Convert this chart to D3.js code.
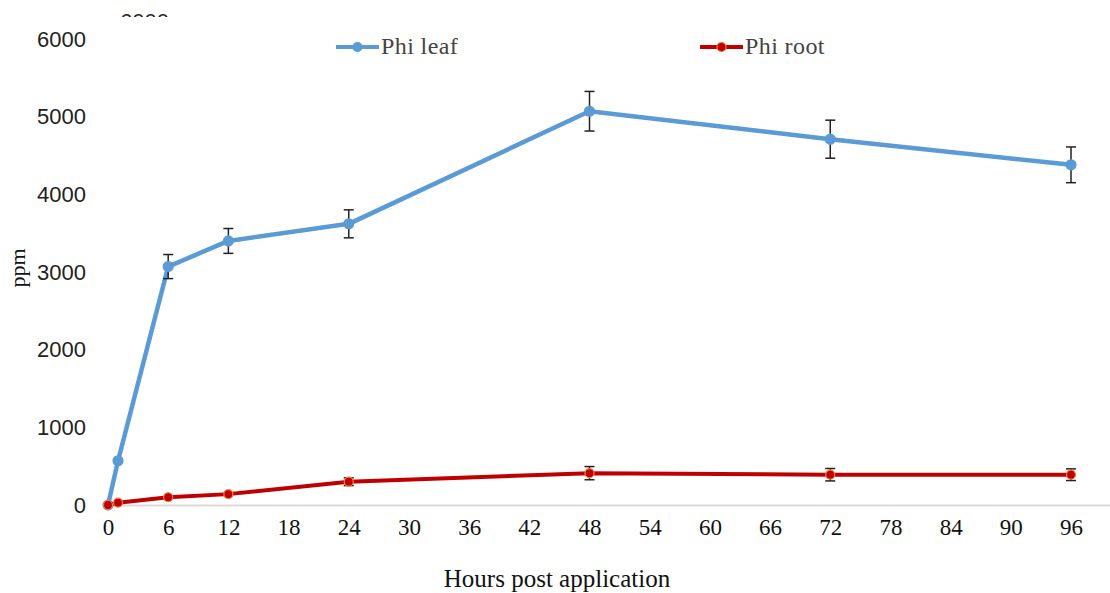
<!DOCTYPE html>
<html>
<head>
<meta charset="utf-8">
<script src="https://cdn.jsdelivr.net/npm/d3@7"></script>
<style>
  body { margin: 0; background: #fff; }
  .y-axis text { font-family: "Liberation Sans", Arial, sans-serif; font-size: 22px; fill: #222; }
  .x-axis text { font-family: "Liberation Serif", "Times New Roman", serif; font-size: 23px; fill: #111; }
  .axis-title { font-family: "Liberation Serif", "Times New Roman", serif; font-size: 25px; fill: #111; }
  .legend-label { font-family: "Liberation Serif", "Times New Roman", serif; font-size: 24px; fill: #444; letter-spacing: 0.4px; }
</style>
</head>
<body>
<svg id="chart"></svg>
<script>
var width = 1110, height = 593;

// data
var hours = [0, 1, 6, 12, 24, 48, 72, 96];
var leaf = [0, 570, 3070, 3400, 3620, 5070, 4710, 4380];
var leafErr = [0, 0, 155, 160, 180, 255, 245, 230];
var root = [0, 30, 100, 140, 300, 410, 390, 390];
var rootErr = [0, 0, 0, 0, 50, 85, 80, 75];
var xTicks = [0, 6, 12, 18, 24, 30, 36, 42, 48, 54, 60, 66, 72, 78, 84, 90, 96];
var yTicks = [0, 1000, 2000, 3000, 4000, 5000, 6000];
var seriesNames = ["Phi leaf", "Phi root"];
var strayLabel = "6000"; // clipped label left over at the top of the picture

var leafColor = "#5b9bd5";
var rootColor = "#c00000";

var svg = d3.select("#chart")
    .attr("width", width)
    .attr("height", height);

var x = d3.scaleLinear()
    .domain([0, 96])
    .range([108, 1071]);

var y = d3.scaleLinear()
    .domain([0, 6000])
    .range([505, 39]);

// stray clipped label at the top
svg.append("clipPath")
    .attr("id", "top-clip")
  .append("rect")
    .attr("x", 0).attr("y", 0)
    .attr("width", 300).attr("height", 17);

svg.append("text")
    .attr("clip-path", "url(#top-clip)")
    .attr("x", 120)
    .attr("y", 29)
    .style("font-family", "Liberation Sans, Arial, sans-serif")
    .style("font-size", "22px")
    .attr("fill", "#222")
    .text(strayLabel);

// x axis
var xAxis = svg.append("g")
    .attr("class", "x-axis")
    .attr("transform", "translate(0," + y(0) + ")")
    .call(d3.axisBottom(x)
        .tickValues(xTicks)
        .tickSize(0)
        .tickPadding(14));
xAxis.select(".domain").remove();

svg.append("line")
    .attr("x1", x(0))
    .attr("x2", width)
    .attr("y1", y(0) + 0.5)
    .attr("y2", y(0) + 0.5)
    .attr("stroke", "#d9d9d9")
    .attr("stroke-width", 2);

// y axis
var yAxis = svg.append("g")
    .attr("class", "y-axis")
    .attr("transform", "translate(86,0)")
    .call(d3.axisLeft(y)
        .tickValues(yTicks)
        .tickFormat(d3.format("d"))
        .tickSize(0)
        .tickPadding(0));
yAxis.select(".domain").remove();

// axis titles
svg.append("text")
    .attr("class", "axis-title")
    .attr("x", 557)
    .attr("y", 587)
    .attr("text-anchor", "middle")
    .text("Hours post application");

svg.append("text")
    .attr("class", "axis-title")
    .style("font-size", "22px")
    .attr("transform", "translate(25,268) rotate(-90)")
    .attr("text-anchor", "middle")
    .text("ppm");

function drawSeries(values, errs, color, lineWidth, markerStroke, r) {
    var pts = hours.map(function(h, i) {
        return { h: h, v: values[i], e: errs[i] };
    });

    var line = d3.line()
        .x(function(d) { return x(d.h); })
        .y(function(d) { return y(d.v); });

    svg.append("path")
        .datum(pts)
        .attr("fill", "none")
        .attr("stroke", color)
        .attr("stroke-width", lineWidth)
        .attr("stroke-linejoin", "round")
        .attr("d", line);

    var bars = svg.append("g")
        .selectAll("g")
        .data(pts.filter(function(d) { return d.e > 0; }))
        .join("g")
        .attr("stroke", "#222")
        .attr("stroke-width", 1.5);

    bars.append("line")
        .attr("x1", function(d) { return x(d.h); })
        .attr("x2", function(d) { return x(d.h); })
        .attr("y1", function(d) { return y(d.v + d.e); })
        .attr("y2", function(d) { return y(d.v - d.e); });
    bars.append("line")
        .attr("x1", function(d) { return x(d.h) - 5; })
        .attr("x2", function(d) { return x(d.h) + 5; })
        .attr("y1", function(d) { return y(d.v + d.e); })
        .attr("y2", function(d) { return y(d.v + d.e); });
    bars.append("line")
        .attr("x1", function(d) { return x(d.h) - 5; })
        .attr("x2", function(d) { return x(d.h) + 5; })
        .attr("y1", function(d) { return y(d.v - d.e); })
        .attr("y2", function(d) { return y(d.v - d.e); });

    svg.append("g")
        .selectAll("circle")
        .data(pts)
        .join("circle")
        .attr("cx", function(d) { return x(d.h); })
        .attr("cy", function(d) { return y(d.v); })
        .attr("r", r)
        .attr("fill", color)
        .attr("stroke", markerStroke)
        .attr("stroke-width", 1.2);
}

drawSeries(leaf, leafErr, leafColor, 4.5, leafColor, 5);
drawSeries(root, rootErr, rootColor, 4, "#f08040", 4.5);

// legend
var legendItems = [
    { name: seriesNames[0], color: leafColor, stroke: leafColor, x: 336 },
    { name: seriesNames[1], color: rootColor, stroke: "#f08040", x: 700 }
];

var legend = svg.append("g")
    .selectAll("g")
    .data(legendItems)
    .join("g")
    .attr("transform", function(d) { return "translate(" + d.x + ",47)"; });

legend.append("line")
    .attr("x1", 0).attr("x2", 43)
    .attr("y1", 0).attr("y2", 0)
    .attr("stroke", function(d) { return d.color; })
    .attr("stroke-width", 4);

legend.append("circle")
    .attr("cx", 21.5).attr("cy", 0)
    .attr("r", 4.5)
    .attr("fill", function(d) { return d.color; })
    .attr("stroke", function(d) { return d.stroke; })
    .attr("stroke-width", 1.2);

legend.append("text")
    .attr("class", "legend-label")
    .attr("x", 45)
    .attr("y", 7)
    .text(function(d) { return d.name; });
</script>
</body>
</html>
